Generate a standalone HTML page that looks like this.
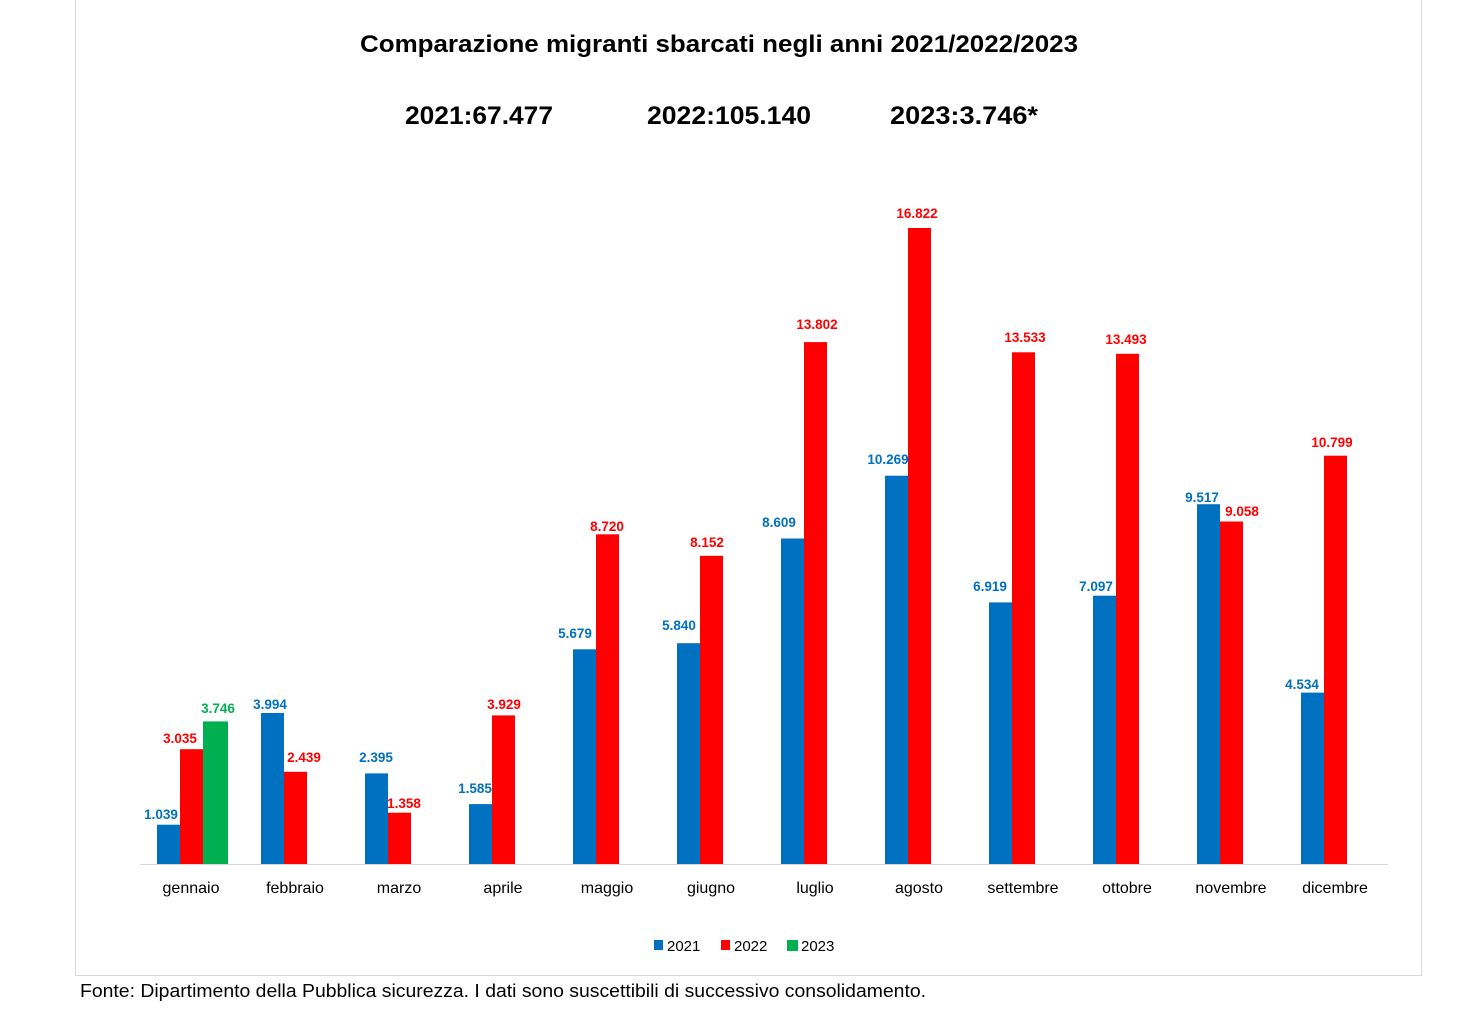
<!DOCTYPE html>
<html><head><meta charset="utf-8"><style>
body{margin:0;background:#fff;}
svg{display:block;font-family:"Liberation Sans",Arial,sans-serif;}
.b{fill:#0070C0}.r{fill:#FF0000}.g{fill:#00B050}
.lb{font-weight:bold;font-size:13.5px;text-anchor:middle;fill:#0070C0}
.lr{font-weight:bold;font-size:13.5px;text-anchor:middle;fill:#FF0000}
.m{font-size:16px;text-anchor:middle;fill:#000}
</style></head><body>
<svg width="1476" height="1020" viewBox="0 0 1476 1020">
<rect width="1476" height="1020" fill="#fff"/>
<path d="M75.5 0V975.5H1421.5V0" fill="none" stroke="#d9d9d9" stroke-width="1"/>
<text x="360" y="52" font-size="24" font-weight="bold" textLength="718" lengthAdjust="spacingAndGlyphs">Comparazione migranti sbarcati negli anni 2021/2022/2023</text>
<text x="405" y="124" font-size="25" font-weight="bold" textLength="148" lengthAdjust="spacingAndGlyphs">2021:67.477</text>
<text x="647" y="124" font-size="25" font-weight="bold" textLength="164" lengthAdjust="spacingAndGlyphs">2022:105.140</text>
<text x="890" y="124" font-size="25" font-weight="bold" textLength="148" lengthAdjust="spacingAndGlyphs">2023:3.746*</text>
<g>
<rect class="b" x="157" y="824.7" width="23" height="39.3"/>
<rect class="b" x="261" y="713" width="23" height="151"/>
<rect class="b" x="365" y="773.4" width="23" height="90.6"/>
<rect class="b" x="469" y="804.1" width="23" height="59.9"/>
<rect class="b" x="573" y="649.3" width="23" height="214.7"/>
<rect class="b" x="677" y="643.2" width="23" height="220.8"/>
<rect class="b" x="781" y="538.5" width="23" height="325.5"/>
<rect class="b" x="885" y="475.7" width="23" height="388.3"/>
<rect class="b" x="989" y="602.4" width="23" height="261.6"/>
<rect class="b" x="1093" y="595.7" width="23" height="268.3"/>
<rect class="b" x="1197" y="504.2" width="23" height="359.8"/>
<rect class="b" x="1301" y="692.6" width="23" height="171.4"/>
<rect class="r" x="180" y="749.2" width="23" height="114.8"/>
<rect class="r" x="284" y="771.8" width="23" height="92.2"/>
<rect class="r" x="388" y="812.7" width="23" height="51.3"/>
<rect class="r" x="492" y="715.4" width="23" height="148.6"/>
<rect class="r" x="596" y="534.3" width="23" height="329.7"/>
<rect class="r" x="700" y="555.8" width="23" height="308.2"/>
<rect class="r" x="804" y="342.1" width="23" height="521.9"/>
<rect class="r" x="908" y="228" width="23" height="636"/>
<rect class="r" x="1012" y="352.3" width="23" height="511.7"/>
<rect class="r" x="1116" y="353.8" width="23" height="510.2"/>
<rect class="r" x="1220" y="521.5" width="23" height="342.5"/>
<rect class="r" x="1324" y="455.7" width="23" height="408.3"/>
<rect class="g" x="203" y="721.4" width="25" height="142.6"/>
</g>
<line x1="140" y1="864.5" x2="1388" y2="864.5" stroke="#d9d9d9" stroke-width="1"/>
<g>
<text class="lb" x="161" y="819">1.039</text>
<text class="lb" x="270" y="709">3.994</text>
<text class="lb" x="376" y="762">2.395</text>
<text class="lb" x="475" y="793">1.585</text>
<text class="lb" x="575" y="638">5.679</text>
<text class="lb" x="679" y="630">5.840</text>
<text class="lb" x="779" y="527">8.609</text>
<text class="lb" x="888" y="464">10.269</text>
<text class="lb" x="990" y="591">6.919</text>
<text class="lb" x="1096" y="591">7.097</text>
<text class="lb" x="1202" y="502">9.517</text>
<text class="lb" x="1302" y="689">4.534</text>
<text class="lr" x="180" y="743">3.035</text>
<text class="lr" x="304" y="762">2.439</text>
<text class="lr" x="404" y="808">1.358</text>
<text class="lr" x="504" y="709">3.929</text>
<text class="lr" x="607" y="531">8.720</text>
<text class="lr" x="707" y="547">8.152</text>
<text class="lr" x="817" y="329">13.802</text>
<text class="lr" x="917" y="218">16.822</text>
<text class="lr" x="1025" y="342">13.533</text>
<text class="lr" x="1126" y="344">13.493</text>
<text class="lr" x="1242" y="516">9.058</text>
<text class="lr" x="1332" y="447">10.799</text>
<text x="218" y="713" font-weight="bold" font-size="13.5" text-anchor="middle" fill="#00B050">3.746</text>
</g>
<g>
<text class="m" x="191" y="893">gennaio</text>
<text class="m" x="295" y="893">febbraio</text>
<text class="m" x="399" y="893">marzo</text>
<text class="m" x="503" y="893">aprile</text>
<text class="m" x="607" y="893">maggio</text>
<text class="m" x="711" y="893">giugno</text>
<text class="m" x="815" y="893">luglio</text>
<text class="m" x="919" y="893">agosto</text>
<text class="m" x="1023" y="893">settembre</text>
<text class="m" x="1127" y="893">ottobre</text>
<text class="m" x="1231" y="893">novembre</text>
<text class="m" x="1335" y="893">dicembre</text>
</g>
<g font-size="15">
<rect x="654" y="940" width="9" height="10" fill="#0070C0"/><text x="667" y="951">2021</text>
<rect x="721" y="940" width="9" height="10" fill="#FF0000"/><text x="734" y="951">2022</text>
<rect x="787" y="940" width="11" height="11" fill="#00B050"/><text x="801" y="951">2023</text>
</g>
<text x="80" y="997" font-size="18" textLength="846" lengthAdjust="spacingAndGlyphs">Fonte: Dipartimento della Pubblica sicurezza. I dati sono suscettibili di successivo consolidamento.</text>
</svg>
</body></html>
